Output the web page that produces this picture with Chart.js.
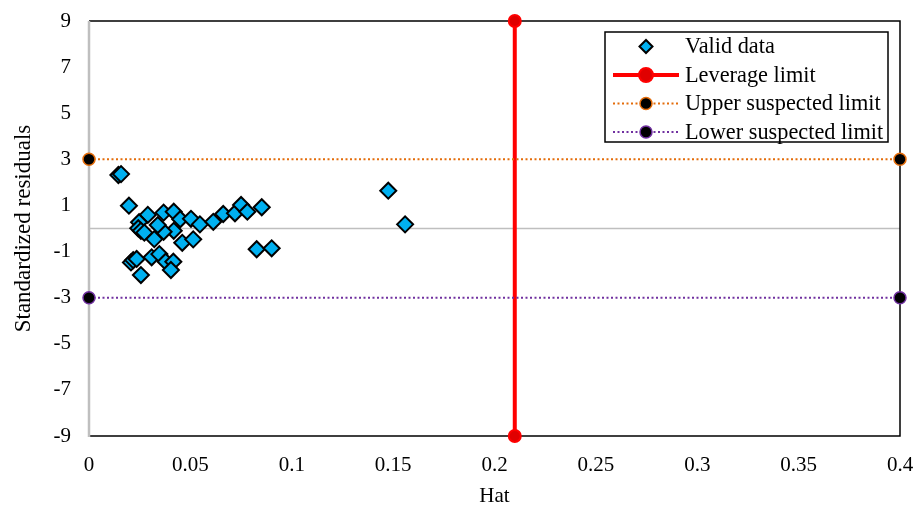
<!DOCTYPE html>
<html>
<head>
<meta charset="utf-8">
<script src="https://cdn.jsdelivr.net/npm/chart.js@4"></script>
<style>
    html, body { margin: 0; padding: 0; background: #fff; }
    canvas { display: block; }
</style>
</head>
<body>
<canvas id="chart" width="916" height="507"></canvas>
<script>
// 資料點 (Hat, 標準化殘差)
const HAT = [
    0.0145, 0.0158, 0.0197, 0.0290, 0.0247, 0.0243, 0.0256, 0.0273, 0.0322,
    0.0368, 0.0418, 0.0450, 0.0503, 0.0547, 0.0418, 0.0368, 0.0339, 0.0460,
    0.0514, 0.0207, 0.0218, 0.0235, 0.0256, 0.0309, 0.0347, 0.0378, 0.0416,
    0.0404, 0.0613, 0.0662, 0.0720, 0.0750, 0.0781, 0.0852, 0.0827, 0.0901,
    0.1476, 0.1559
];
const RESID = [
    2.32, 2.36, 0.99, 0.59, 0.27, 0.01, -0.10, -0.18, -0.46,
    0.69, 0.73, 0.40, 0.42, 0.18, -0.10, -0.14, 0.15, -0.62,
    -0.47, -1.47, -1.37, -1.32, -2.02, -1.25, -1.11, -1.44, -1.44,
    -1.80, 0.29, 0.63, 0.66, 1.02, 0.73, 0.92, -0.90, -0.86,
    1.64, 0.18
];

// 界限線
const LEVERAGE_X = [0.21, 0.21];
const LEVERAGE_Y = [-9, 9];
const LIMIT_X = [0, 0.4];
const UPPER_Y = [3, 3];
const LOWER_Y = [-3, -3];

// 刻度
const X_TICKS = [0, 0.05, 0.1, 0.15, 0.2, 0.25, 0.3, 0.35, 0.4];
const Y_TICKS = [-9, -7, -5, -3, -1, 1, 3, 5, 7, 9];

const SERIES_NAMES = ['Valid data', 'Leverage limit', 'Upper suspected limit', 'Lower suspected limit'];

const FONT_FAMILY = "'Liberation Serif', 'Times New Roman', serif";
const GRAY = '#BFBFBF';

function toPoints(xs, ys) {
    return xs.map((x, i) => ({ x: x, y: ys[i] }));
}

// 框線、零線
const frame = {
    id: 'frame',
    beforeDatasetsDraw(chart) {
        const { ctx, chartArea: a, scales } = chart;
        const y0 = scales.y.getPixelForValue(0);
        ctx.save();
        ctx.strokeStyle = GRAY;
        ctx.lineWidth = 1.5;
        ctx.beginPath();
        ctx.moveTo(a.left, y0);
        ctx.lineTo(a.right, y0);
        ctx.stroke();

        ctx.strokeStyle = '#000';
        ctx.lineWidth = 1.5;
        ctx.beginPath();
        ctx.moveTo(a.left, a.top);
        ctx.lineTo(a.right, a.top);
        ctx.lineTo(a.right, a.bottom);
        ctx.lineTo(a.left, a.bottom);
        ctx.stroke();

        ctx.strokeStyle = GRAY;
        ctx.lineWidth = 2.5;
        ctx.beginPath();
        ctx.moveTo(a.left, a.top);
        ctx.lineTo(a.left, a.bottom + 1);
        ctx.stroke();
        ctx.restore();
    }
};

// 圖例 (畫在繪圖區內)
const legendBox = {
    id: 'legendBox',
    afterDatasetsDraw(chart) {
        const { ctx, chartArea: a } = chart;
        const w = 283, h = 110;
        const x0 = a.right - 12 - w, top = a.top + 11;
        ctx.save();
        ctx.fillStyle = '#fff';
        ctx.fillRect(x0, top, w, h);
        ctx.strokeStyle = '#000';
        ctx.lineWidth = 1.5;
        ctx.strokeRect(x0, top, w, h);

        chart.data.datasets.forEach((ds, i) => {
            const cy = top + 14.5 + i * 28.5;
            const cx = x0 + 41;
            if (ds.showLine) {
                ctx.strokeStyle = ds.borderColor;
                ctx.lineWidth = ds.borderWidth;
                ctx.setLineDash(ds.borderDash || []);
                ctx.beginPath();
                ctx.moveTo(x0 + 8, cy);
                ctx.lineTo(x0 + 74, cy);
                ctx.stroke();
                ctx.setLineDash([]);
            }
            ctx.fillStyle = ds.pointBackgroundColor;
            ctx.strokeStyle = ds.pointBorderColor;
            ctx.lineWidth = ds.pointBorderWidth;
            Chart.helpers.drawPoint(ctx, {
                pointStyle: ds.pointStyle,
                radius: ds.legendRadius,
                borderWidth: ds.pointBorderWidth,
                rotation: 0
            }, cx, cy);

            ctx.fillStyle = '#000';
            ctx.font = '22.3px ' + FONT_FAMILY;
            ctx.textBaseline = 'middle';
            ctx.textAlign = 'left';
            ctx.fillText(ds.label, x0 + 80, cy + 1);
        });
        ctx.restore();
    }
};

new Chart(document.getElementById('chart'), {
    type: 'scatter',
    data: {
        datasets: [
            {
                label: SERIES_NAMES[0],
                data: toPoints(HAT, RESID),
                pointStyle: 'rectRot',
                pointRadius: 8,
                pointBackgroundColor: '#00B0F0',
                pointBorderColor: '#000',
                pointBorderWidth: 2,
                legendRadius: 6.5,
                showLine: false,
                order: 4,
                clip: false
            },
            {
                label: SERIES_NAMES[1],
                data: toPoints(LEVERAGE_X, LEVERAGE_Y),
                showLine: true,
                borderColor: '#FF0000',
                borderWidth: 4,
                pointStyle: 'circle',
                pointRadius: 6,
                pointBackgroundColor: '#E00000',
                pointBorderColor: '#FF0000',
                pointBorderWidth: 2,
                legendRadius: 7,
                order: 3,
                clip: false
            },
            {
                label: SERIES_NAMES[2],
                data: toPoints(LIMIT_X, UPPER_Y),
                showLine: true,
                borderColor: '#E46C0A',
                borderWidth: 2,
                borderDash: [2, 2.5],
                pointStyle: 'circle',
                pointRadius: 6,
                pointBackgroundColor: '#000',
                pointBorderColor: '#E46C0A',
                pointBorderWidth: 1.5,
                legendRadius: 6,
                order: 2,
                clip: false
            },
            {
                label: SERIES_NAMES[3],
                data: toPoints(LIMIT_X, LOWER_Y),
                showLine: true,
                borderColor: '#7030A0',
                borderWidth: 2,
                borderDash: [2, 2.5],
                pointStyle: 'circle',
                pointRadius: 6,
                pointBackgroundColor: '#000',
                pointBorderColor: '#7030A0',
                pointBorderWidth: 1.5,
                legendRadius: 6,
                order: 1,
                clip: false
            }
        ]
    },
    options: {
        responsive: false,
        animation: false,
        events: [],
        layout: { padding: { left: 0, top: 21, right: 16, bottom: 0 } },
        font: { family: FONT_FAMILY },
        plugins: {
            legend: { display: false },
            tooltip: { enabled: false }
        },
        scales: {
            x: {
                type: 'linear',
                min: 0,
                max: 0.4,
                afterBuildTicks: s => { s.ticks = X_TICKS.map(v => ({ value: v })); },
                afterFit: s => {
                    s.height = 71;
                    s.paddingLeft = 0;
                    s.paddingRight = 0;
                },
                grid: { display: false },
                border: { display: false },
                ticks: {
                    color: '#000',
                    padding: 9,
                    maxRotation: 0,
                    font: { family: FONT_FAMILY, size: 21 },
                    callback: v => String(+v.toFixed(2))
                },
                title: {
                    display: true,
                    text: 'Hat',
                    color: '#000',
                    padding: { top: 0, bottom: -2 },
                    font: { family: FONT_FAMILY, size: 21 }
                }
            },
            y: {
                type: 'linear',
                min: -9,
                max: 9,
                afterBuildTicks: s => { s.ticks = Y_TICKS.map(v => ({ value: v })); },
                afterFit: s => {
                    s.width = 89;
                    s.paddingTop = 0;
                    s.paddingBottom = 0;
                },
                grid: { display: false },
                border: { display: false },
                ticks: {
                    color: '#000',
                    padding: 10,
                    font: { family: FONT_FAMILY, size: 21 }
                },
                title: {
                    display: true,
                    text: 'Standardized residuals',
                    color: '#000',
                    padding: { top: 10, bottom: 0 },
                    font: { family: FONT_FAMILY, size: 23 }
                }
            }
        }
    },
    plugins: [frame, legendBox]
});
</script>
</body>
</html>
